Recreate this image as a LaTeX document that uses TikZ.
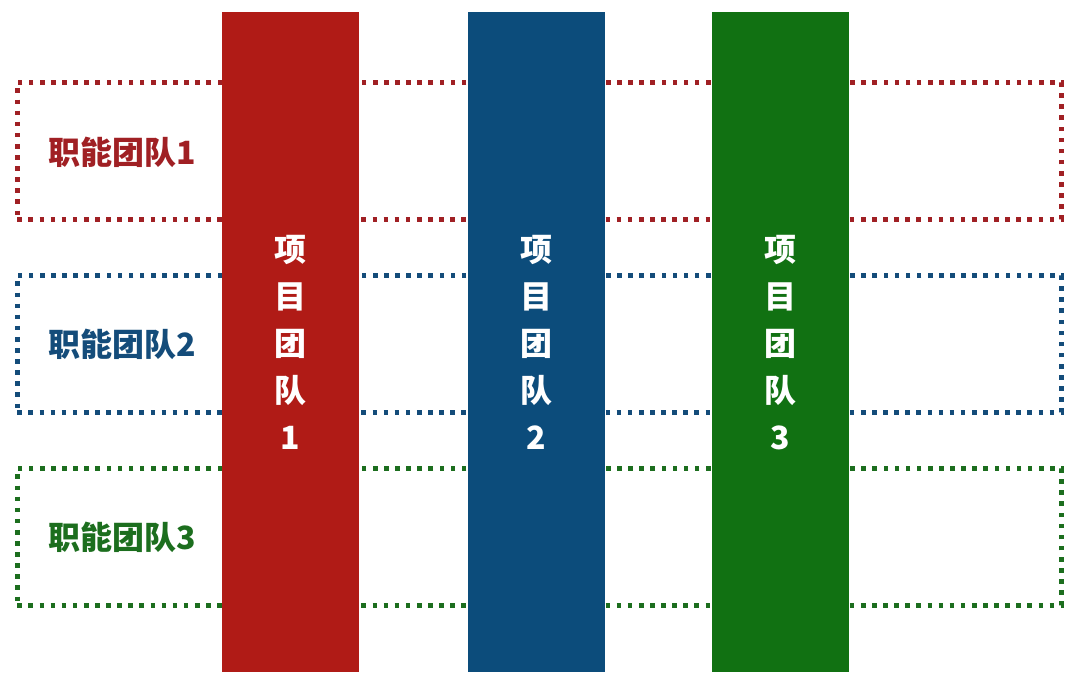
\documentclass[tikz,border=0pt]{standalone}
\usepackage{fontspec}
\newfontfamily\cjk{Noto Sans CJK SC}
\definecolor{barred}{RGB}{176,27,22}
\definecolor{barblue}{RGB}{12,76,123}
\definecolor{bargreen}{RGB}{17,113,18}
\definecolor{dotred}{RGB}{160,32,36}
\definecolor{dotblue}{RGB}{20,76,122}
\definecolor{dotgreen}{RGB}{28,110,30}
\tikzset{
  fbox/.style={draw, line width=4.6pt, dash pattern=on 4.6pt off 6.5pt, minimum width=1044pt, minimum height=137pt, inner sep=0pt, anchor=north west},
  flabel/.style={font=\cjk\bfseries\fontsize{32}{32}\selectfont, inner sep=0pt},
  pbar/.style={minimum width=137pt, minimum height=660pt, inner sep=0pt, anchor=north west, text=white, align=center, font=\cjk\bfseries\fontsize{32}{47}\selectfont}
}
\begin{document}
\begin{tikzpicture}[x=1pt,y=-1pt]
\useasboundingbox (0,0) rectangle (1080,686);
\node[fbox, dotred] (f1) at (15,80) {};
\node[fbox, dotblue] (f2) at (15,273) {};
\node[fbox, dotgreen] (f3) at (15,466) {};
\node[flabel, text=dotred] (l1) at (122,152) {职能团队1};
\node[flabel, text=dotblue] (l2) at (122,344) {职能团队2};
\node[flabel, text=dotgreen] (l3) at (122,537) {职能团队3};
\node[pbar, fill=barred] (p1) at (222,12) {项\\目\\团\\队\\1};
\node[pbar, fill=barblue] (p2) at (467.5,12) {项\\目\\团\\队\\2};
\node[pbar, fill=bargreen] (p3) at (712,12) {项\\目\\团\\队\\3};
\end{tikzpicture}
\end{document}
